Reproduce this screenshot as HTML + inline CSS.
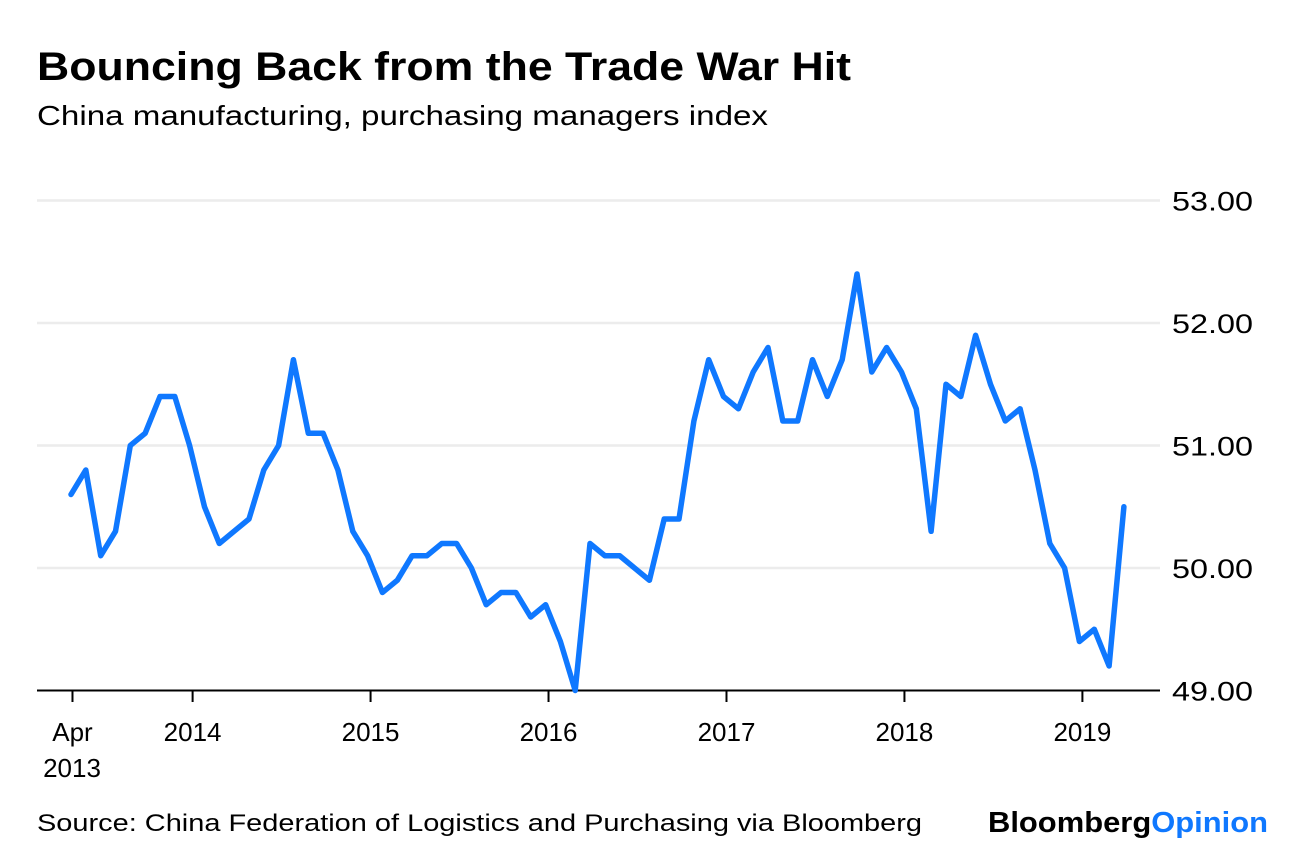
<!DOCTYPE html>
<html><head><meta charset="utf-8"><style>
html,body{margin:0;padding:0;background:#fff;}
svg{display:block;font-family:"Liberation Sans",sans-serif;}
</style></head><body>
<svg id="chart" width="1296" height="854">
<text x="37" y="80" font-size="40" font-weight="bold" fill="#000" textLength="814" lengthAdjust="spacingAndGlyphs">Bouncing Back from the Trade War Hit</text>
<text x="37" y="125" font-size="28" fill="#000" textLength="731" lengthAdjust="spacingAndGlyphs">China manufacturing, purchasing managers index</text>
<g id="grid"></g>
<g id="xaxis"></g>
<path id="line" fill="none" stroke="#0f78ff" stroke-width="5.5" stroke-linejoin="round" stroke-linecap="round"></path>
<text x="37" y="831" font-size="24" fill="#000" textLength="885" lengthAdjust="spacingAndGlyphs">Source: China Federation of Logistics and Purchasing via Bloomberg</text>
<text x="988" y="832" font-size="29" font-weight="bold" textLength="280" lengthAdjust="spacingAndGlyphs"><tspan fill="#000">Bloomberg</tspan><tspan fill="#0f78ff">Opinion</tspan></text>
</svg>
<script>
const pmiValues = [50.6,50.8,50.1,50.3,51.0,51.1,51.4,51.4,51.0,
50.5,50.2,50.3,50.4,50.8,51.0,51.7,51.1,51.1,50.8,50.3,50.1,
49.8,49.9,50.1,50.1,50.2,50.2,50.0,49.7,49.8,49.8,49.6,49.7,
49.4,49.0,50.2,50.1,50.1,50.0,49.9,50.4,50.4,51.2,51.7,51.4,
51.3,51.6,51.8,51.2,51.2,51.7,51.4,51.7,52.4,51.6,51.8,51.6,
51.3,50.3,51.5,51.4,51.9,51.5,51.2,51.3,50.8,50.2,50.0,49.4,
49.5,49.2,50.5];
const yTicks = [49,50,51,52,53];
const yTickLabels = ["49.00","50.00","51.00","52.00","53.00"];
const xTickIndex = [0.1,8.2,20.2,32.2,44.2,56.2,68.2];
const xTickLabels = ["Apr","2014","2015","2016","2017","2018","2019"];

const NS="http://www.w3.org/2000/svg";
const x = i => 71 + i*14.83;
const y = v => 690.5 - (v-49)*122.5;
function mk(tag, attrs, parent){const e=document.createElementNS(NS,tag);for(const k in attrs)e.setAttribute(k,attrs[k]);parent.appendChild(e);return e;}
const grid=document.getElementById('grid'), xa=document.getElementById('xaxis');
yTicks.forEach((t,i)=>{
  if(t>49){const l=mk('line',{x1:37,x2:1160,y1:y(t),y2:y(t),stroke:'#ececec','stroke-width':2.5},grid);
  
  }
  const tx=mk('text',{x:1172,y:y(t)+10,'font-size':27,fill:'#000',textLength:81,lengthAdjust:'spacingAndGlyphs'},grid);
  tx.textContent=yTickLabels[i];
  
  
});
const ax=mk('line',{x1:37,x2:1160,y1:690.5,y2:690.5,stroke:'#000','stroke-width':2},xa);


xTickIndex.forEach((ix,i)=>{
  const px=x(ix);
  const tk=mk('line',{x1:px,x2:px,y1:690,y2:702,stroke:'#000','stroke-width':2},xa);
  
  
  const tx=mk('text',{x:px,y:741,'font-size':26,fill:'#000','text-anchor':'middle'},xa);
  tx.textContent=xTickLabels[i];
  
  
});
const yr=mk('text',{x:72,y:777,'font-size':26,fill:'#000','text-anchor':'middle'},xa);
yr.textContent='2013';


document.getElementById('line').setAttribute('d',pmiValues.map((v,i)=>(i?'L':'M')+x(i).toFixed(1)+','+y(v).toFixed(1)).join(''));
</script>
</body></html>
